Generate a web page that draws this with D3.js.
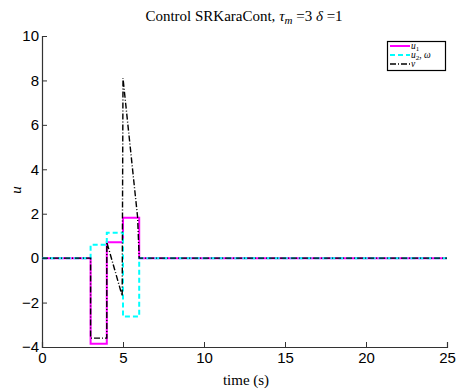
<!DOCTYPE html>
<html><head><meta charset="utf-8">
<script src="https://cdn.jsdelivr.net/npm/d3@7"></script>
<style>
html,body{margin:0;padding:0;background:#fff;}
svg{display:block;}
</style></head>
<body>
<svg id="chart" width="461" height="392"></svg>
<script>
// ---- data ----
const xTicks = [0, 5, 10, 15, 20, 25];
const yTicks = [-4, -2, 0, 2, 4, 6, 8, 10];
const u1Time = [0, 3, 3, 4, 4, 5, 5, 6, 6, 25];
const u1Val  = [0, 0, -3.85, -3.85, 0.72, 0.72, 1.82, 1.82, 0, 0];
const u2Time = [0, 3, 3, 4, 4, 5, 5, 6, 6, 25];
const u2Val  = [0, 0, 0.6, 0.6, 1.14, 1.14, -2.63, -2.63, 0, 0];
const vTime  = [0, 3, 3, 4, 4, 4.95, 5, 5.9, 6, 25];
const vVal   = [0, 0, -3.6, -3.6, 0.72, -1.7, 8.1, 1.85, 0, 0];

// ---- layout ----
const svg = d3.select("#chart");
const L = 42, R = 447, T = 36, B = 347;
const x = d3.scaleLinear().domain([0, 25]).range([L, R]);
const y = d3.scaleLinear().domain([-4, 10]).range([B, T]);

const tickFont = "'Liberation Sans', Arial, sans-serif";
const serif = "'Liberation Serif', 'Times New Roman', serif";

// axes
const xAxis = d3.axisBottom(x).tickValues(xTicks).tickSize(-5).tickPadding(4).tickFormat(d3.format("d"));
const yAxis = d3.axisLeft(y).tickValues(yTicks).tickSize(-5).tickPadding(4)
  .tickFormat(d => d < 0 ? "\u2212" + Math.abs(d) : String(d));

const gx = svg.append("g").attr("transform", `translate(0,${B})`).call(xAxis);
const gy = svg.append("g").attr("transform", `translate(${L},0)`).call(yAxis);
[gx, gy].forEach(g => {
  g.select(".domain").attr("stroke", "#333").attr("stroke-width", 1.2);
  g.selectAll(".tick line").attr("stroke", "#333").attr("stroke-width", 1);
  g.selectAll(".tick text").attr("fill", "#000").style("font-family", tickFont).style("font-size", "15px");
});
gx.selectAll(".tick text").attr("dy", "0.8em");
gy.selectAll(".tick text").attr("dx", "1px");

// lines
const line = d3.line().x(d => x(d[0])).y(d => y(d[1]));
const series = [
  {t: u1Time, v: u1Val, color: "#ff00ff", width: 2, dash: null},
  {t: u2Time, v: u2Val, color: "#00ffff", width: 2, dash: "5,3"},
  {t: vTime,  v: vVal,  color: "#000000", width: 1.4, dash: "6,2,1,2"}
];
series.forEach(s => {
  svg.append("path")
    .datum(s.t.map((t, i) => [t, s.v[i]]))
    .attr("d", line)
    .attr("fill", "none")
    .attr("stroke", s.color)
    .attr("stroke-width", s.width)
    .attr("stroke-dasharray", s.dash);
});

// title
const title = svg.append("text").attr("x", 244).attr("y", 21).attr("text-anchor", "middle")
  .style("font-family", serif).style("font-size", "15px");
title.append("tspan").text("Control SRKaraCont, ");
title.append("tspan").style("font-style", "italic").text("τ");
title.append("tspan").attr("dy", 3).style("font-size", "11px").style("font-style", "italic").text("m");
title.append("tspan").attr("dy", -3).text(" =3 ");
title.append("tspan").style("font-style", "italic").text("δ");
title.append("tspan").text(" =1");

// axis labels
svg.append("text").attr("x", 246).attr("y", 385).attr("text-anchor", "middle")
  .style("font-family", serif).style("font-size", "15px").text("time (s)");
svg.append("text").attr("transform", "translate(21,190) rotate(-90)").attr("text-anchor", "middle")
  .style("font-family", serif).style("font-size", "15px").style("font-style", "italic").text("u");

// legend
const lg = svg.append("g");
lg.append("rect").attr("x", 387.5).attr("y", 41.5).attr("width", 58).attr("height", 29)
  .attr("fill", "#fff").attr("stroke", "#000").attr("stroke-width", 1.2);
const ly = [46, 55, 64];
series.forEach((s, i) => {
  lg.append("line").attr("x1", 390).attr("x2", 410).attr("y1", ly[i]).attr("y2", ly[i])
    .attr("stroke", s.color).attr("stroke-width", s.width).attr("stroke-dasharray", s.dash);
});
const lt = (i) => lg.append("text").attr("x", 411).attr("y", ly[i] + 3)
  .style("font-family", serif).style("font-size", "9.5px").style("font-style", "italic");
let t0 = lt(0); t0.append("tspan").text("u"); t0.append("tspan").attr("dy", 1.5).style("font-size", "7px").style("font-style", "normal").text("1");
let t1 = lt(1); t1.append("tspan").text("u"); t1.append("tspan").attr("dy", 1.5).style("font-size", "7px").style("font-style", "normal").text("2");
t1.append("tspan").attr("dy", -1.5).style("font-style", "normal").text(", "); t1.append("tspan").text("ω");
let t2 = lt(2); t2.text("v");
</script>
</body></html>
